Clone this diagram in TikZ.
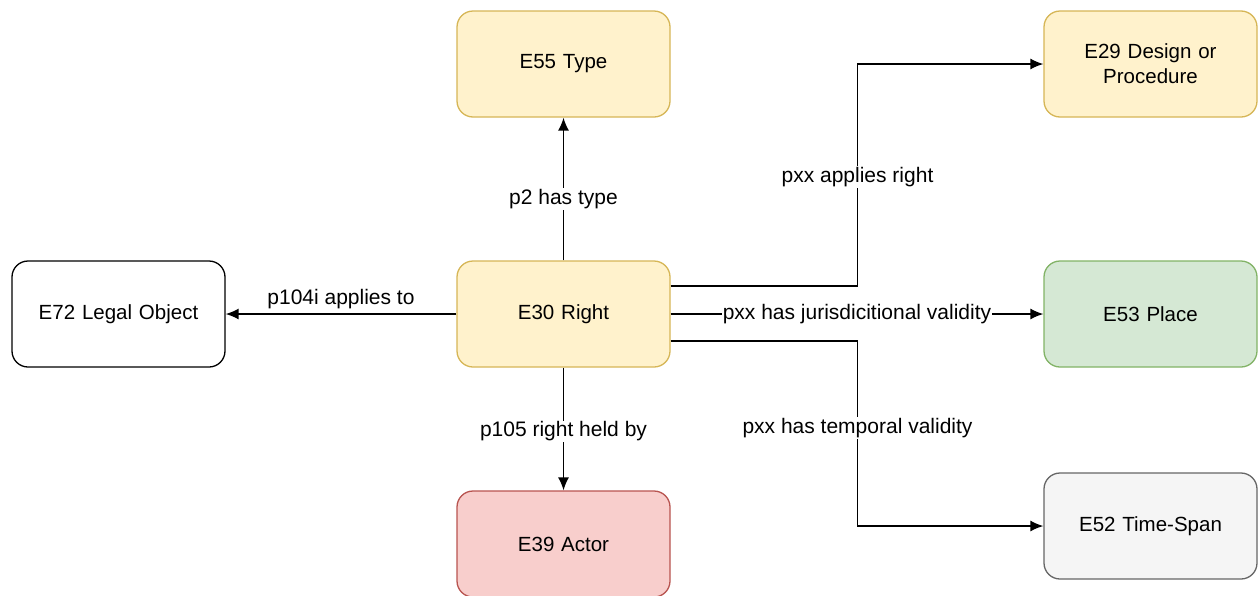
\documentclass[tikz,border=0pt]{standalone}
\usepackage{fontspec}
\setmainfont{Liberation Sans}
\usepackage{tikz}
\usetikzlibrary{arrows.meta, positioning}
\definecolor{ylwfill}{HTML}{FFF2CC}
\definecolor{ylwline}{HTML}{D6B656}
\definecolor{grnfill}{HTML}{D5E8D4}
\definecolor{grnline}{HTML}{82B366}
\definecolor{redfill}{HTML}{F8CECC}
\definecolor{redline}{HTML}{B85450}
\definecolor{gryfill}{HTML}{F5F5F5}
\definecolor{gryline}{HTML}{666666}
\tikzset{
  cls/.style={rectangle, rounded corners=16pt, draw=black, line width=1.3pt, fill=white,
    font=\fontsize{20.5}{25}\selectfont, minimum width=213pt, minimum height=106pt,
    align=center, text width=190pt, inner sep=3pt},
  cls/ylw/.style={cls, draw=ylwline, fill=ylwfill},
  cls/grn/.style={cls, draw=grnline, fill=grnfill},
  cls/red/.style={cls, draw=redline, fill=redfill},
  cls/gry/.style={cls, draw=gryline, fill=gryfill},
  ar/.style={-{Latex[length=13pt,width=11pt]}, draw=black, line width=1.4pt},
  lb/.style={font=\fontsize{21}{24}\selectfont, fill=white, inner sep=1pt},
}
\begin{document}
\begin{tikzpicture}[x=1pt, y=-1pt]
  \useasboundingbox (0,0) rectangle (1258,595);
  % classes
  \node[cls/ylw] (right)  at (563.5,314) {E30 Right};
  \node[cls/ylw] (type)   at (563.5,64)  {E55 Type};
  \node[cls]     (legal)  at (118.5,314) {E72 Legal Object};
  \node[cls/red] (actor)  at (563.5,544) {E39 Actor};
  \node[cls/ylw] (design) at (1150.5,64) {E29 Design or\\Procedure};
  \node[cls/grn] (place)  at (1150.5,314) {E53 Place};
  \node[cls/gry] (span)   at (1150.5,526) {E52 Time-Span};
  % properties
  \draw[ar] (right) -- node[lb, pos=0.43] {p2 has type} (type);
  \draw[ar] (right) -- node[above=3pt, lb, fill=none] {p104i applies to} (legal);
  \draw[ar] (right) -- node[lb, pos=0.52] {p105 right held by} (actor);
  \draw[ar] (right) -- node[lb] {pxx has jurisdicitional validity} (place);
  \coordinate (up)   at (857.5,286);
  \coordinate (down) at (857.5,341);
  \draw[ar] ([yshift=28pt]right.east) -- (up) |- node[lb, pos=0.245] {pxx applies right} (design);
  \draw[ar] ([yshift=-27pt]right.east) -- (down) |- node[lb, pos=0.235] {pxx has temporal validity} (span);
\end{tikzpicture}
\end{document}
